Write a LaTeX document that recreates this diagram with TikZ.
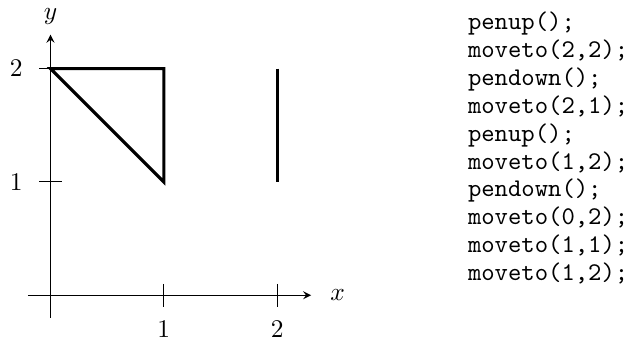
\documentclass[tikz,border=0pt]{standalone}
\begin{document}
\begin{tikzpicture}[x=1.565cm, y=1.565cm, line width=0.4pt, >=stealth,
  pen/.style={line width=1.2pt},
  codeline/.style={anchor=base west, inner sep=0pt, font=\ttfamily}]
  \useasboundingbox (-0.446,-0.403) rectangle (5.132,2.606);
  \coordinate (O) at (0,0);
  \coordinate (xs) at (-0.2,0);
  \coordinate (xe) at (2.3,0);
  \coordinate (ys) at (0,-0.2);
  \coordinate (ye) at (0,2.3);
  \draw[->] (xs) -- (xe) node[right=4pt] {$x$};
  \draw[->] (ys) -- (ye) node[above=0.5pt] {$y$};
  \foreach \t in {1,2} {
    \draw (\t,0.1) -- (\t,-0.1) node[below=2pt] {$\t$};
    \draw (0.1,\t) -- (-0.1,\t) node[left=3pt] {$\t$};
  }
  % pen strokes
  \coordinate (A) at (0,2);
  \coordinate (B) at (1,2);
  \coordinate (C) at (1,1);
  \coordinate (D) at (2,2);
  \coordinate (E) at (2,1);
  \draw[pen] (B) -- (A) -- (C) -- cycle;
  \draw[pen] (D) -- (E);
  % program
  \foreach \ln [count=\i from 0] in {{penup();}, {moveto(2,2);}, {pendown();},
      {moveto(2,1);}, {penup();}, {moveto(1,2);}, {pendown();},
      {moveto(0,2);}, {moveto(1,1);}, {moveto(1,2);}}
    \node[codeline] (l\i) at (3.68, {2.350-0.2471*\i}) {\ln};
\end{tikzpicture}
\end{document}
